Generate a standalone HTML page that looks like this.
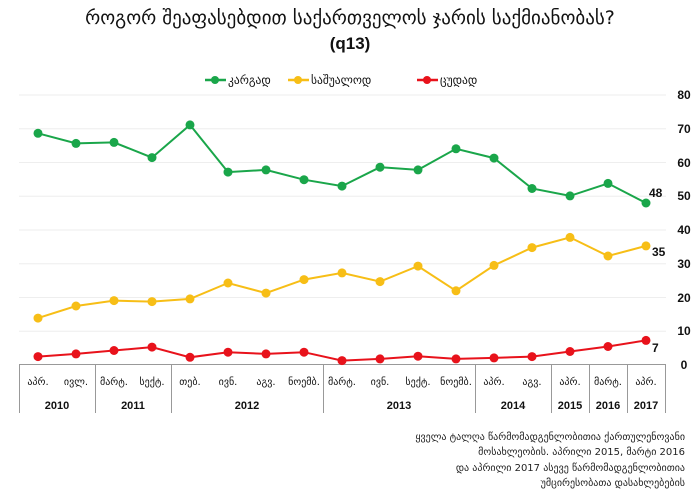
<!DOCTYPE html>
<html><head><meta charset="utf-8"><style>
body{margin:0;background:#fff;width:700px;height:491px;overflow:hidden;font-family:"DejaVu Sans","Liberation Sans",sans-serif}
</style></head><body>
<svg width="700" height="491" xmlns="http://www.w3.org/2000/svg" font-family="DejaVu Sans, Liberation Sans, sans-serif">
<text x="350" y="24" text-anchor="middle" font-size="19" fill="#111">როგორ  შეაფასებდით  საქართველოს ჯარის საქმიანობას?</text>
<text x="350" y="49" text-anchor="middle" font-size="17" font-weight="bold" font-family="Liberation Sans, sans-serif" fill="#111">(q13)</text>
<g font-size="11.5" fill="#111">
<line x1="205" y1="80" x2="226" y2="80" stroke="#1aa64a" stroke-width="2.5"/><circle cx="215" cy="80" r="4" fill="#1aa64a"/><text x="228" y="84">კარგად</text>
<line x1="288" y1="80" x2="309" y2="80" stroke="#f7be16" stroke-width="2.5"/><circle cx="298" cy="80" r="4" fill="#f7be16"/><text x="311" y="84">საშუალოდ</text>
<line x1="417" y1="80" x2="438" y2="80" stroke="#e8121b" stroke-width="2.5"/><circle cx="427" cy="80" r="4" fill="#e8121b"/><text x="440" y="84">ცუდად</text>
</g>
<g stroke="#eee" stroke-width="1">
<line x1="19" x2="666" y1="95" y2="95"/><line x1="19" x2="666" y1="128.75" y2="128.75"/><line x1="19" x2="666" y1="162.5" y2="162.5"/><line x1="19" x2="666" y1="196.25" y2="196.25"/><line x1="19" x2="666" y1="230" y2="230"/><line x1="19" x2="666" y1="263.75" y2="263.75"/><line x1="19" x2="666" y1="297.5" y2="297.5"/><line x1="19" x2="666" y1="331.25" y2="331.25"/>
</g>
<g font-size="12" font-weight="bold" font-family="Liberation Sans, sans-serif" fill="#111" text-anchor="middle">
<text x="684" y="99">80</text><text x="684" y="133">70</text><text x="684" y="167">60</text><text x="684" y="200">50</text><text x="684" y="234">40</text><text x="684" y="268">30</text><text x="684" y="302">20</text><text x="684" y="335">10</text><text x="684" y="369">0</text>
</g>
<g stroke="#999" stroke-width="1" fill="none">
<line x1="19" x2="666" y1="364.5" y2="364.5"/>
<line x1="19.5" x2="19.5" y1="364" y2="413"/><line x1="95.5" x2="95.5" y1="364" y2="413"/><line x1="171.5" x2="171.5" y1="364" y2="413"/><line x1="323.5" x2="323.5" y1="364" y2="413"/><line x1="475.5" x2="475.5" y1="364" y2="413"/><line x1="551.5" x2="551.5" y1="364" y2="413"/><line x1="589.5" x2="589.5" y1="364" y2="413"/><line x1="627.5" x2="627.5" y1="364" y2="413"/><line x1="665.5" x2="665.5" y1="364" y2="413"/>
</g>
<g font-size="10" fill="#111" text-anchor="middle">
<text x="38" y="385">აპრ.</text><text x="76" y="385">ივლ.</text><text x="114" y="385">მარტ.</text><text x="152" y="385">სექტ.</text><text x="190" y="385">თებ.</text><text x="228" y="385">ივნ.</text><text x="266" y="385">აგვ.</text><text x="304" y="385">ნოემბ.</text><text x="342" y="385">მარტ.</text><text x="380" y="385">ივნ.</text><text x="418" y="385">სექტ.</text><text x="456" y="385">ნოემბ.</text><text x="494" y="385">აპრ.</text><text x="532" y="385">აგვ.</text><text x="570" y="385">აპრ.</text><text x="608" y="385">მარტ.</text><text x="646" y="385">აპრ.</text>
</g>
<g font-size="11" font-weight="bold" font-family="Liberation Sans, sans-serif" fill="#111" text-anchor="middle">
<text x="57" y="409">2010</text><text x="133" y="409">2011</text><text x="247" y="409">2012</text><text x="399" y="409">2013</text><text x="513" y="409">2014</text><text x="570" y="409">2015</text><text x="608" y="409">2016</text><text x="646" y="409">2017</text>
</g>
<polyline fill="none" stroke="#1aa64a" stroke-width="2" points="38,133.3 76,143.4 114,142.4 152,157.6 190,124.9 228,172.1 266,169.9 304,179.7 342,186.1 380,167.2 418,169.9 456,148.8 494,158.1 532,188.5 570,195.9 608,183.4 646,203"/>
<polyline fill="none" stroke="#f7be16" stroke-width="2" points="38,318.1 76,306 114,300.6 152,301.6 190,298.9 228,283 266,293.1 304,279.6 342,272.9 380,281.6 418,266.1 456,290.8 494,265.4 532,247.6 570,237.4 608,256 646,245.9"/>
<polyline fill="none" stroke="#e8121b" stroke-width="2" points="38,356.6 76,353.9 114,350.5 152,347.1 190,357.3 228,352.2 266,353.9 304,352.2 342,360.6 380,358.9 418,356.2 456,358.9 494,357.9 532,356.6 570,351.5 608,346.5 646,340.4"/>
<g fill="#1aa64a"><circle cx="38" cy="133.3" r="4.5"/><circle cx="76" cy="143.4" r="4.5"/><circle cx="114" cy="142.4" r="4.5"/><circle cx="152" cy="157.6" r="4.5"/><circle cx="190" cy="124.9" r="4.5"/><circle cx="228" cy="172.1" r="4.5"/><circle cx="266" cy="169.9" r="4.5"/><circle cx="304" cy="179.7" r="4.5"/><circle cx="342" cy="186.1" r="4.5"/><circle cx="380" cy="167.2" r="4.5"/><circle cx="418" cy="169.9" r="4.5"/><circle cx="456" cy="148.8" r="4.5"/><circle cx="494" cy="158.1" r="4.5"/><circle cx="532" cy="188.5" r="4.5"/><circle cx="570" cy="195.9" r="4.5"/><circle cx="608" cy="183.4" r="4.5"/><circle cx="646" cy="203" r="4.5"/></g>
<g fill="#f7be16"><circle cx="38" cy="318.1" r="4.5"/><circle cx="76" cy="306" r="4.5"/><circle cx="114" cy="300.6" r="4.5"/><circle cx="152" cy="301.6" r="4.5"/><circle cx="190" cy="298.9" r="4.5"/><circle cx="228" cy="283" r="4.5"/><circle cx="266" cy="293.1" r="4.5"/><circle cx="304" cy="279.6" r="4.5"/><circle cx="342" cy="272.9" r="4.5"/><circle cx="380" cy="281.6" r="4.5"/><circle cx="418" cy="266.1" r="4.5"/><circle cx="456" cy="290.8" r="4.5"/><circle cx="494" cy="265.4" r="4.5"/><circle cx="532" cy="247.6" r="4.5"/><circle cx="570" cy="237.4" r="4.5"/><circle cx="608" cy="256" r="4.5"/><circle cx="646" cy="245.9" r="4.5"/></g>
<g fill="#e8121b"><circle cx="38" cy="356.6" r="4.5"/><circle cx="76" cy="353.9" r="4.5"/><circle cx="114" cy="350.5" r="4.5"/><circle cx="152" cy="347.1" r="4.5"/><circle cx="190" cy="357.3" r="4.5"/><circle cx="228" cy="352.2" r="4.5"/><circle cx="266" cy="353.9" r="4.5"/><circle cx="304" cy="352.2" r="4.5"/><circle cx="342" cy="360.6" r="4.5"/><circle cx="380" cy="358.9" r="4.5"/><circle cx="418" cy="356.2" r="4.5"/><circle cx="456" cy="358.9" r="4.5"/><circle cx="494" cy="357.9" r="4.5"/><circle cx="532" cy="356.6" r="4.5"/><circle cx="570" cy="351.5" r="4.5"/><circle cx="608" cy="346.5" r="4.5"/><circle cx="646" cy="340.4" r="4.5"/></g>
<g font-size="12" font-weight="bold" font-family="Liberation Sans, sans-serif" fill="#111">
<text x="649" y="197">48</text><text x="652" y="256">35</text><text x="652" y="352">7</text>
</g>
<g font-size="10" fill="#222" text-anchor="end">
<text x="685" y="440">ყველა ტალღა წარმომადგენლობითია ქართულენოვანი</text>
<text x="685" y="455">მოსახლეობის. აპრილი 2015, მარტი 2016</text>
<text x="685" y="471">და აპრილი 2017 ასევე წარმომადგენლობითია</text>
<text x="685" y="486">უმცირესობათა დასახლებების</text>
</g>
</svg>
</body></html>
